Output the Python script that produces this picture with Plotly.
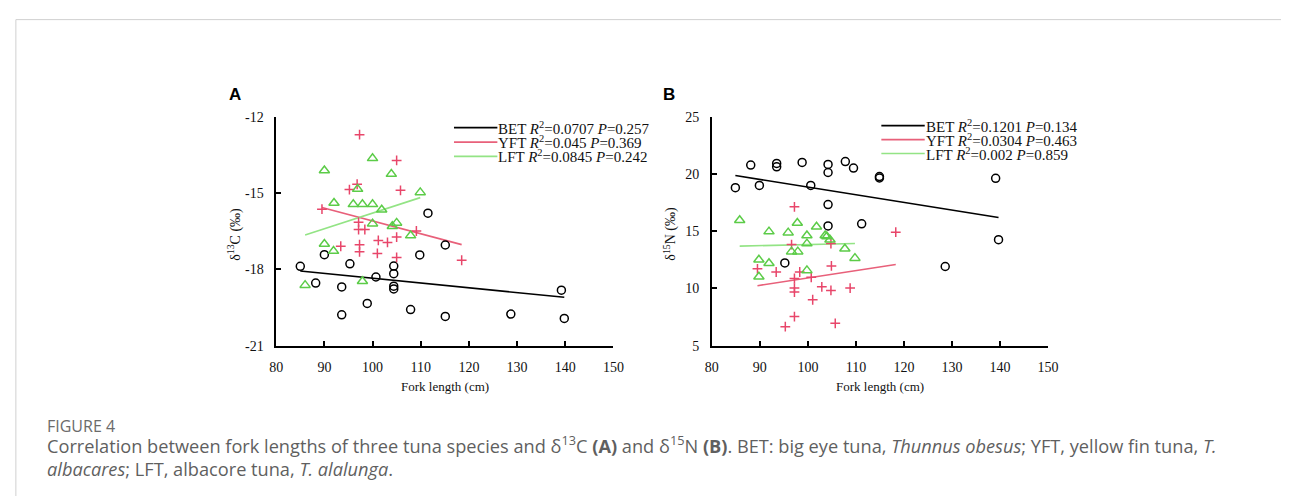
import numpy as np
import plotly.graph_objects as go

W, H = 1292, 504

# ---------------- data ----------------
# Panel A: fork length (cm) vs d13C
bet_a_x = [85.0, 88.2, 90.0, 93.6, 93.6, 95.3, 98.9, 100.7, 104.4, 104.4, 104.4, 104.4, 107.9, 109.8, 111.5, 115.1, 115.1, 128.7, 139.2, 139.8]
bet_a_y = [-17.88, -18.54, -17.42, -18.69, -19.79, -17.78, -19.34, -18.30, -17.87, -18.17, -18.66, -18.77, -19.58, -17.43, -15.79, -17.04, -19.85, -19.76, -18.82, -19.93]
yft_a_x = [89.5, 93.4, 95.2, 96.8, 97.3, 97.1, 97.1, 98.4, 97.3, 97.3, 101.0, 101.2, 103.1, 105.0, 105.0, 105.0, 105.8, 109.1, 118.5]
yft_a_y = [-15.63, -17.09, -14.86, -14.65, -12.70, -16.14, -16.43, -16.43, -17.03, -17.31, -17.37, -16.86, -16.94, -16.73, -13.71, -17.53, -14.89, -16.49, -17.64]
lft_a_x = [86.0, 90.0, 90.0, 91.9, 92.0, 96.0, 96.9, 97.9, 97.9, 100.0, 100.0, 100.0, 101.9, 103.9, 104.1, 105.0, 107.9, 109.9]
lft_a_y = [-18.62, -14.11, -17.00, -17.28, -15.39, -15.44, -14.84, -15.44, -18.47, -13.63, -15.44, -16.20, -15.65, -14.25, -16.30, -16.17, -16.67, -14.97]

# Panel B: fork length (cm) vs d15N
bet_b_x = [84.9, 88.1, 89.9, 93.5, 93.5, 95.2, 98.8, 100.6, 104.2, 104.2, 104.2, 104.2, 107.8, 109.5, 111.2, 114.9, 114.9, 128.6, 139.1, 139.7]
bet_b_y = [18.81, 20.79, 19.01, 20.93, 20.64, 12.23, 21.02, 19.01, 20.85, 20.14, 17.34, 15.47, 21.10, 20.53, 15.65, 19.78, 19.66, 11.92, 19.63, 14.26]
yft_b_x = [89.5, 93.4, 95.3, 96.6, 97.2, 97.2, 97.2, 97.2, 97.2, 98.3, 100.7, 101.0, 102.9, 104.8, 104.9, 104.8, 105.7, 108.8, 118.3]
yft_b_y = [11.72, 11.44, 6.66, 13.84, 17.14, 10.87, 10.03, 9.69, 7.54, 11.44, 10.98, 9.01, 10.14, 13.92, 11.97, 9.83, 6.95, 10.03, 14.92]
lft_b_x = [85.8, 89.8, 89.8, 91.9, 91.9, 95.9, 96.6, 97.8, 97.9, 99.8, 99.8, 99.8, 101.8, 103.6, 103.95, 104.6, 107.7, 109.8]
lft_b_y = [15.96, 12.51, 11.02, 14.97, 12.20, 14.88, 13.22, 15.73, 13.22, 14.63, 13.92, 11.58, 15.39, 14.63, 14.54, 14.26, 13.47, 12.65]

legend_a = ["BET <i>R</i><sup>2</sup>=0.0707 <i>P</i>=0.257",
            "YFT <i>R</i><sup>2</sup>=0.045 <i>P</i>=0.369",
            "LFT <i>R</i><sup>2</sup>=0.0845 <i>P</i>=0.242"]
legend_b = ["BET <i>R</i><sup>2</sup>=0.1201 <i>P</i>=0.134",
            "YFT <i>R</i><sup>2</sup>=0.0304 <i>P</i>=0.463",
            "LFT <i>R</i><sup>2</sup>=0.002 <i>P</i>=0.859"]

x_ticks = [80, 90, 100, 110, 120, 130, 140, 150]
ya_ticks = [-21, -18, -15, -12]
yb_ticks = [5, 10, 15, 20, 25]

# ---------------- styles ----------------
BLACK = "#000000"
RED = "#e8466a"
RED_LINE = "#e8607a"
GREEN = "#5ccc48"
GREEN_LINE = "#93e485"
SERIF = "Liberation Serif"
SANS = "Open Sans"


def px(x):
    return x / W


def py(y):
    return 1 - y / H


fig = go.Figure()


def fit_line(xs, ys):
    xs = np.asarray(xs, float)
    ys = np.asarray(ys, float)
    k, b = np.polyfit(xs, ys, 1)
    xx = np.array([xs.min(), xs.max()])
    return xx, k * xx + b


def add_panel(xa, ya, sets):
    for xs, ys, sym, col, lcol, size in sets:
        lx, ly = fit_line(xs, ys)
        fig.add_trace(go.Scatter(x=lx, y=ly, mode="lines", xaxis=xa, yaxis=ya,
                                 line=dict(color=lcol, width=1.6), showlegend=False,
                                 hoverinfo="skip"))
    for xs, ys, sym, col, lcol, size in sets:
        fig.add_trace(go.Scatter(x=xs, y=ys, mode="markers", xaxis=xa, yaxis=ya,
                                 marker=dict(symbol=sym, size=size, color=col,
                                             line=dict(color=col, width=1.5)),
                                 showlegend=False))


add_panel("x", "y", [
    (bet_a_x, bet_a_y, "circle-open", BLACK, BLACK, 8),
    (yft_a_x, yft_a_y, "cross-thin-open", RED, RED_LINE, 7),
    (lft_a_x, lft_a_y, "triangle-up-open", GREEN, GREEN_LINE, 9),
])
add_panel("x2", "y2", [
    (bet_b_x, bet_b_y, "circle-open", BLACK, BLACK, 8),
    (yft_b_x, yft_b_y, "cross-thin-open", RED, RED_LINE, 7),
    (lft_b_x, lft_b_y, "triangle-up-open", GREEN, GREEN_LINE, 9),
])

axis_common = dict(showgrid=False, zeroline=False, showline=True, linecolor="black",
                   linewidth=1.5, ticks="inside", ticklen=5, tickwidth=1.5,
                   tickcolor="black", tickfont=dict(family=SERIF, size=14, color="#111"))

ya_dom = [py(349), py(113.3)]
fig.update_layout(
    xaxis=dict(domain=[px(273), px(615)], range=[80, 150], tickvals=x_ticks,
               ticktext=[str(v) for v in x_ticks],
               anchor="y", ticklabelstandoff=8, **axis_common),
    yaxis=dict(domain=ya_dom, range=[-21, -12], tickvals=ya_ticks,
               ticktext=[str(v) for v in ya_ticks],
               anchor="x", ticklabelstandoff=8, **axis_common),
    xaxis2=dict(domain=[px(714.8), px(1055.7)], range=[80, 150], tickvals=x_ticks,
                ticktext=[str(v) for v in x_ticks],
                anchor="y2", ticklabelstandoff=8, **axis_common),
    yaxis2=dict(domain=ya_dom, range=[5, 25], tickvals=yb_ticks,
                ticktext=[str(v) for v in yb_ticks],
                anchor="x2", ticklabelstandoff=8, **axis_common),
)

shapes = []
annotations = []

# card border
shapes.append(dict(type="line", xref="paper", yref="paper", x0=px(9), x1=1,
                   y0=py(13), y1=py(13), line=dict(color="#d0d0d0", width=1)))
shapes.append(dict(type="line", xref="paper", yref="paper", x0=px(9), x1=px(9),
                   y0=py(13), y1=0, line=dict(color="#d0d0d0", width=1)))


def add_legend(x0, x1, ys, labels):
    cols = [BLACK, RED_LINE, GREEN_LINE]
    for yy, lab, c in zip(ys, labels, cols):
        shapes.append(dict(type="line", xref="paper", yref="paper", x0=px(x0), x1=px(x1),
                           y0=py(yy), y1=py(yy), line=dict(color=c, width=1.6)))
        annotations.append(dict(text=lab, xref="paper", yref="paper", x=px(x1), y=py(yy),
                                xanchor="left", yanchor="middle", showarrow=False,
                                borderpad=0,
                                font=dict(family=SERIF, size=15, color="#111")))


add_legend(453.3, 497.3, [124.3, 139.3, 154.0], legend_a)
add_legend(886.7, 930.7, [122.3, 136.7, 151.0], legend_b)

# panel letters
for cx, t in [(231, "<b>A</b>"), (671.5, "<b>B</b>")]:
    annotations.append(dict(text=t, xref="paper", yref="paper", x=px(cx), y=py(90.5),
                            xanchor="center", yanchor="middle", showarrow=False,
                            font=dict(family="Liberation Sans", size=17, color="#000")))

# axis titles
for cx, t in [(230, "δ<sup>13</sup>C (‰)"), (672, "δ<sup>15</sup>N (‰)")]:
    annotations.append(dict(text=t, xref="paper", yref="paper", x=px(cx), y=py(234),
                            xanchor="center", yanchor="middle", textangle=-90, showarrow=False,
                            font=dict(family=SERIF, size=14, color="#111")))
for cx in [444, 885]:
    annotations.append(dict(text="Fork length (cm)", xref="paper", yref="paper", x=px(cx), y=py(391),
                            xanchor="center", yanchor="middle", showarrow=False,
                            font=dict(family=SERIF, size=13, color="#111")))

# caption
annotations.append(dict(text="FIGURE 4", xref="paper", yref="paper", x=px(40), y=py(432),
                        xanchor="left", yanchor="middle", showarrow=False, borderpad=0,
                        font=dict(family=SANS, size=16, color="#6b6b6b")))
annotations.append(dict(
    text="Correlation between fork lengths of three tuna species and δ<sup>13</sup>C <b>(A)</b> and "
         "δ<sup>15</sup>N <b>(B)</b>. BET: big eye tuna, <i>Thunnus obesus</i>; YFT, yellow fin tuna, <i>T.</i>"
         "<br><i>albacares</i>; LFT, albacore tuna, <i>T. alalunga</i>.",
    xref="paper", yref="paper", x=px(40), y=py(463), xanchor="left", yanchor="middle", borderpad=0,
    align="left", showarrow=False, font=dict(family=SANS, size=18.2, color="#5f5f5f")))

fig.update_layout(width=W, height=H, autosize=False,
                  margin=dict(l=0, r=0, t=0, b=0, pad=0),
                  paper_bgcolor="white", plot_bgcolor="white",
                  shapes=shapes, annotations=annotations)

fig.write_html("out.html", config={"displayModeBar": False},
               post_script="document.body.style.margin='0';document.body.style.padding='0';"
                           "document.documentElement.style.overflow='hidden';")
